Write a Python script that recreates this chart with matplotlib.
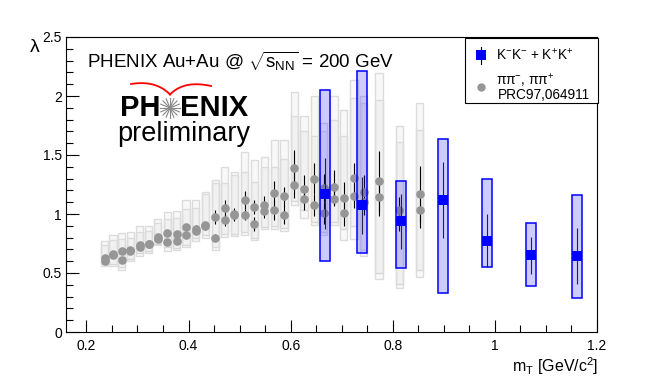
import numpy as np
import matplotlib.pyplot as plt
from matplotlib.patches import Rectangle
from matplotlib.ticker import MultipleLocator

plt.rcParams['font.family'] = ['Liberation Sans', 'DejaVu Sans']
plt.rcParams['mathtext.fontset'] = 'custom'
plt.rcParams['mathtext.rm'] = 'Liberation Sans'
plt.rcParams['mathtext.it'] = 'Liberation Sans:italic'

# pion pairs (PRC97,064911): two points per mT bin
pi_x = [0.236, 0.252, 0.269, 0.286, 0.304, 0.322, 0.340, 0.358, 0.377, 0.395,
        0.414, 0.433, 0.452, 0.471, 0.490, 0.510, 0.529, 0.548, 0.568, 0.587,
        0.607, 0.626, 0.646, 0.665, 0.685, 0.704, 0.724, 0.743, 0.773, 0.813, 0.853]
pi_a = [0.624, 0.663, 0.683, 0.692, 0.740, 0.748, 0.805, 0.839, 0.833, 0.887,
        0.873, 0.904, 0.975, 1.051, 1.003, 1.121, 1.056, 1.079, 1.178, 1.149,
        1.390, 1.212, 1.299, 1.220, 1.225, 1.135, 1.305, 1.190, 1.276, 1.030, 1.169]
pi_b = [0.600, 0.655, 0.613, 0.685, 0.720, 0.742, 0.790, 0.760, 0.774, 0.825,
        0.860, 0.895, 0.800, 0.952, 0.990, 0.994, 0.918, 1.022, 1.031, 0.994,
        1.246, 1.130, 1.073, 1.008, 1.130, 1.008, 1.155, 1.100, 1.144, 0.960, 1.031]
pi_err_a = [0.010, 0.010, 0.012, 0.012, 0.014, 0.014, 0.016, 0.020, 0.020, 0.025,
            0.030, 0.030, 0.060, 0.064, 0.050, 0.076, 0.060, 0.070, 0.100, 0.080,
            0.155, 0.120, 0.133, 0.120, 0.150, 0.133, 0.127, 0.137, 0.260, 0.110, 0.234]
pi_err_b = [0.010, 0.010, 0.012, 0.012, 0.014, 0.014, 0.016, 0.020, 0.020, 0.025,
            0.030, 0.030, 0.030, 0.057, 0.050, 0.048, 0.060, 0.060, 0.085, 0.080,
            0.110, 0.094, 0.093, 0.090, 0.065, 0.113, 0.105, 0.110, 0.158, 0.100, 0.150]
# systematic boxes: series a spans [a_lo, a_hi], series b spans [b_lo, b_hi]
pi_a_hi = [0.768, 0.825, 0.839, 0.847, 0.895, 0.895, 0.960, 1.017, 1.025, 1.121,
           1.121, 1.190, 1.290, 1.395, 1.353, 1.528, 1.454, 1.480, 1.624, 1.630,
           2.034, 1.833, 1.997, 1.771, 2.003, 1.878, 2.138, 1.997, 2.195, 1.748, 1.940]
pi_a_lo = [0.580, 0.580, 0.550, 0.620, 0.670, 0.690, 0.750, 0.720, 0.710, 0.740,
           0.800, 0.820, 0.720, 0.830, 0.830, 0.850, 0.800, 0.890, 0.900, 0.880,
           1.107, 1.030, 0.930, 0.850, 0.930, 0.873, 0.895, 0.697, 0.500, 0.410, 0.522]
pi_b_hi = [0.734, 0.780, 0.790, 0.800, 0.850, 0.860, 0.920, 0.960, 0.970, 1.040,
           1.050, 1.170, 1.260, 1.260, 1.327, 1.356, 1.268, 1.398, 1.398, 1.470,
           1.833, 1.705, 1.658, 1.700, 1.800, 1.664, 1.983, 1.940, 1.963, 1.607, 1.708]
pi_b_lo = [0.562, 0.562, 0.522, 0.598, 0.647, 0.669, 0.734, 0.689, 0.692, 0.717,
           0.774, 0.797, 0.697, 0.805, 0.816, 0.825, 0.782, 0.875, 0.873, 0.853,
           1.073, 0.966, 0.903, 0.825, 0.903, 0.782, 0.791, 0.647, 0.449, 0.370, 0.466]

# kaon pairs
k_x = [0.668, 0.740, 0.816, 0.898, 0.984, 1.071, 1.161]
k_y = [1.172, 1.073, 0.937, 1.120, 0.774, 0.649, 0.644]
k_err = [0.302, 0.242, 0.235, 0.322, 0.225, 0.159, 0.240]
k_sys_hi = [2.048, 2.208, 1.276, 1.636, 1.297, 0.924, 1.161]
k_sys_lo = [0.598, 0.669, 0.545, 0.330, 0.553, 0.386, 0.288]

W, H = 664, 382
fig = plt.figure(figsize=(W / 100, H / 100), dpi=100)
ax = fig.add_axes([66 / W, 50 / H, 531 / W, 295 / H])
ax.set_xlim(0.16, 1.2)
ax.set_ylim(0, 2.5)

pw = 0.014
for i in range(len(pi_x)):
    for lo, hi in ((pi_a_lo[i], pi_a_hi[i]), (pi_b_lo[i], pi_b_hi[i])):
        ax.add_patch(Rectangle((pi_x[i] - pw / 2, lo), pw, hi - lo,
                               facecolor=(0.5, 0.5, 0.5, 0.05), edgecolor='#dcdcdc',
                               lw=1.0, zorder=1))

for ys, es in ((pi_a, pi_err_a), (pi_b, pi_err_b)):
    ax.errorbar(pi_x, ys, yerr=es, fmt='o', color='#969696', ms=6.2, mew=0,
                ecolor='black', elinewidth=0.8, capsize=1.5, capthick=0.8, zorder=2)

kw = 0.02
for i in range(len(k_x)):
    ax.add_patch(Rectangle((k_x[i] - kw / 2, k_sys_lo[i]), kw, k_sys_hi[i] - k_sys_lo[i],
                           facecolor=(0, 0, 1, 0.2), edgecolor='blue', lw=1.1, zorder=3))
ax.errorbar(k_x, k_y, yerr=k_err, fmt='s', color='blue', ms=7, mew=0,
            ecolor='#222244', elinewidth=0.8, capsize=1.5, capthick=0.8, zorder=4)

ax.xaxis.set_major_locator(MultipleLocator(0.2))
ax.xaxis.set_minor_locator(MultipleLocator(0.05))
ax.yaxis.set_major_locator(MultipleLocator(0.5))
ax.yaxis.set_minor_locator(MultipleLocator(0.1))
ax.tick_params(which='both', direction='in', top=False, right=False,
               labelsize=10, width=0.8)
ax.tick_params(which='major', length=9)
ax.tick_params(which='minor', length=5)
ax.tick_params(axis='x', pad=5)
ax.tick_params(axis='y', pad=3)
ax.set_xticks([0.2, 0.4, 0.6, 0.8, 1.0, 1.2])
ax.set_xticklabels(['0.2', '0.4', '0.6', '0.8', '1', '1.2'])
ax.set_yticks([0, 0.5, 1, 1.5, 2, 2.5])
ax.set_yticklabels(['0', '0.5', '1', '1.5', '2', '2.5'])
for s in ax.spines.values():
    s.set_linewidth(0.8)

# overlay in pixel coordinates for texts, logo and legend
ov = fig.add_axes([0, 0, 1, 1], facecolor='none')
ov.set_xlim(0, W)
ov.set_ylim(H, 0)
ov.axis('off')

ov.text(35, 47, 'λ', fontsize=14, ha='center', va='center')
ov.text(598, 366, r'm$_{\rm T}$ [GeV/c$^{2}$]', fontsize=11.5, ha='right', va='center')
ov.text(87, 61, r'PHENIX Au+Au @ $\sqrt{\mathrm{s}_{\rm NN}}$ = 200 GeV',
        fontsize=13.5, ha='left', va='center')

# PHENIX logo
ov.text(160, 108, 'PH', fontsize=21, fontweight='bold', ha='right', va='center')
ov.text(180, 108, 'ENIX', fontsize=21, fontweight='bold', ha='left', va='center')
for a in np.linspace(0, np.pi, 8, endpoint=False):
    ov.plot([170 - 10 * np.cos(a), 170 + 10 * np.cos(a)],
            [108 - 10 * np.sin(a), 108 + 10 * np.sin(a)], color='#888888', lw=0.8)
t = np.linspace(0, 1, 40)
for p0, c, p2 in (((131, 84), (156, 80), (170, 94.5)), ((170, 94.5), (184, 80), (211, 86))):
    bx = (1 - t) ** 2 * p0[0] + 2 * (1 - t) * t * c[0] + t ** 2 * p2[0]
    by = (1 - t) ** 2 * p0[1] + 2 * (1 - t) * t * c[1] + t ** 2 * p2[1]
    ov.plot(bx, by, color='red', lw=1.3)
ov.text(183.5, 134, 'preliminary', fontsize=19.5, ha='center', va='center')

# legend
ov.add_patch(Rectangle((465, 37.5), 132.5, 65, facecolor='white', edgecolor='black', lw=0.8))
ov.plot([480.7, 480.7], [47, 63.5], color='black', lw=0.8)
ov.plot([480.7], [55], marker='s', color='blue', ms=6.5, mew=0)
ov.text(496.5, 55, r'K$^{-}$K$^{-}$ + K$^{+}$K$^{+}$', fontsize=9.8, ha='left', va='center')
ov.plot([480.7], [87.3], marker='o', color='#969696', ms=6, mew=0)
ov.text(496.5, 80, r'ππ$^{-}$, ππ$^{+}$', fontsize=9.8, ha='left', va='center')
ov.text(498, 95, 'PRC97,064911', fontsize=9.8, ha='left', va='center')

fig.savefig('out.png', dpi=100)
